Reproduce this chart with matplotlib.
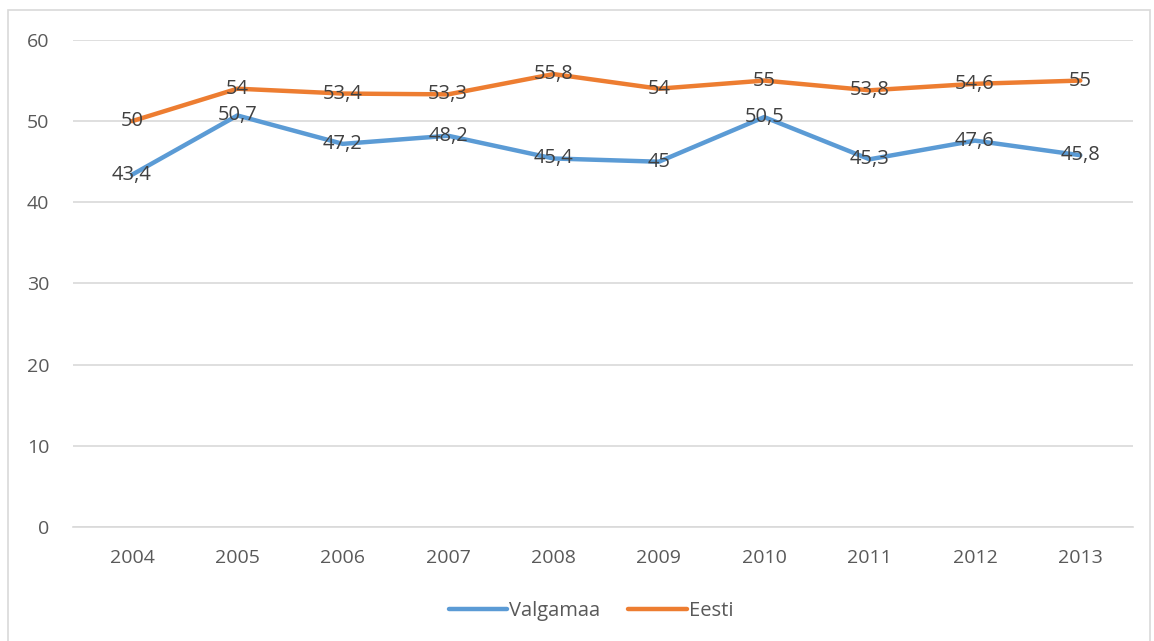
import matplotlib
matplotlib.use("Agg")
import matplotlib.pyplot as plt
from matplotlib.patches import Rectangle

years = ["2004", "2005", "2006", "2007", "2008", "2009", "2010", "2011", "2012", "2013"]
valgamaa = [43.4, 50.7, 47.2, 48.2, 45.4, 45.0, 50.5, 45.3, 47.6, 45.8]
eesti = [50.0, 54.0, 53.4, 53.3, 55.8, 54.0, 55.0, 53.8, 54.6, 55.0]

plt.rcParams['font.family'] = ['Open Sans', 'DejaVu Sans']

fig = plt.figure(figsize=(11.54, 6.41), dpi=100)
ax = fig.add_axes([0.0633, 0.178, 0.9185, 0.7596])

# outer frame like the excel chart area
fig.patches.append(Rectangle((8 / 1154, -0.01), 1142 / 1154, 1 - 10 / 641 + 0.01,
                             transform=fig.transFigure, fill=False,
                             edgecolor="#d9d9d9", linewidth=1.2))

x = list(range(len(years)))
ax.plot(x, valgamaa, color="#5B9BD5", linewidth=3.2, label="Valgamaa",
        solid_capstyle="round", solid_joinstyle="round")
ax.plot(x, eesti, color="#ED7D31", linewidth=3.2, label="Eesti",
        solid_capstyle="round", solid_joinstyle="round")

def fmt(v):
    s = ("%.1f" % v).rstrip("0").rstrip(".")
    return s.replace(".", ",")

for xi, v in zip(x, valgamaa):
    ax.text(xi, v, fmt(v), ha="center", va="center", fontsize=14.5, color="#404040")
for xi, v in zip(x, eesti):
    ax.text(xi, v, fmt(v), ha="center", va="center", fontsize=14.5, color="#404040")

ax.set_xlim(-0.56, len(years) - 0.5)
ax.set_ylim(0, 60)
ax.set_yticks(range(0, 61, 10))
ax.set_xticks(x)
ax.set_xticklabels(years)
ax.grid(axis="y", color="#d9d9d9", linewidth=1.2)
ax.set_axisbelow(True)
for s in ["top", "right", "left"]:
    ax.spines[s].set_visible(False)
ax.spines["bottom"].set_color("#d9d9d9")
ax.spines["bottom"].set_linewidth(1.2)
ax.tick_params(length=0, labelsize=14, colors="#595959", pad=16)
ax.tick_params(axis="y", pad=17)

leg = fig.legend(loc="center", bbox_to_anchor=(0.512, 0.047), ncol=2, frameon=False,
                 fontsize=14.5, handlelength=2.9, handletextpad=0.1, columnspacing=1.4)
for t in leg.get_texts():
    t.set_color("#595959")

fig.savefig("out.png", dpi=100, facecolor="white")
